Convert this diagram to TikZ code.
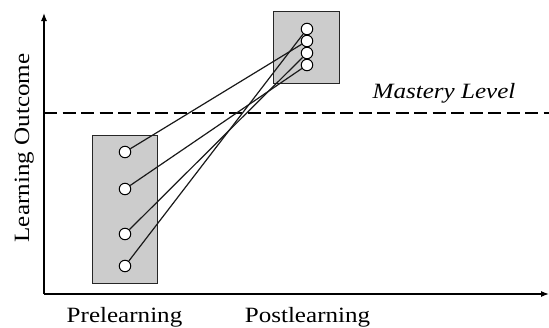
\documentclass[tikz,border=0pt]{standalone}
\usepackage{fontspec}
\setmainfont[FakeStretch=1.15]{Liberation Serif}
\usetikzlibrary{arrows.meta}
\begin{document}
\begin{tikzpicture}[x=1pt,y=-1pt,
  axis/.style={line width=1.2pt, -{Latex[length=8pt,width=6pt]}},
  group/.style={draw=black!85, line width=1pt, fill=black!20},
  pt/.style={circle, draw=black, line width=1pt, fill=white, minimum size=11.5pt, inner sep=0pt},
  link/.style={line width=1.2pt, black!90},
  lab/.style={font=\fontsize{21.8}{25}\selectfont, inner sep=0pt}]
\useasboundingbox (0,0) rectangle (549,327);
% axes
\coordinate (O) at (44,294);
\coordinate (ytip) at (44,13);
\coordinate (xtip) at (549,294);
\draw[axis] (O) -- (ytip);
\draw[axis] (O) -- (xtip);
% mastery line
\coordinate (m1) at (44,113);
\coordinate (m2) at (549,113);
\draw[line width=1.1pt, dash pattern=on 13pt off 5.5pt] (m1) -- (m2);
% boxes
\draw[group] (92,135) rectangle (157,283);
\draw[group] (273,11) rectangle (339,83);
% points
\node[pt] (a1) at (125,152) {};
\node[pt] (a2) at (125,189) {};
\node[pt] (a3) at (125,234) {};
\node[pt] (a4) at (125,266) {};
\node[pt] (b1) at (307,29) {};
\node[pt] (b2) at (307,41) {};
\node[pt] (b3) at (307,53) {};
\node[pt] (b4) at (307,65) {};
\draw[link] (a1) -- (b2);
\draw[link] (a2) -- (b4);
\draw[link] (a3) -- (b3);
\draw[link] (a4) -- (b1);
% labels
\node[lab, anchor=base] (mast) at (444,98) {\itshape Mastery Level};
\node[lab, anchor=base] (pre) at (124.5,322) {Prelearning};
\node[lab, anchor=base] (post) at (307.5,322) {Postlearning};
\node[lab, anchor=base, rotate=90] (yl) at (29,148) {Learning Outcome};
\end{tikzpicture}
\end{document}
